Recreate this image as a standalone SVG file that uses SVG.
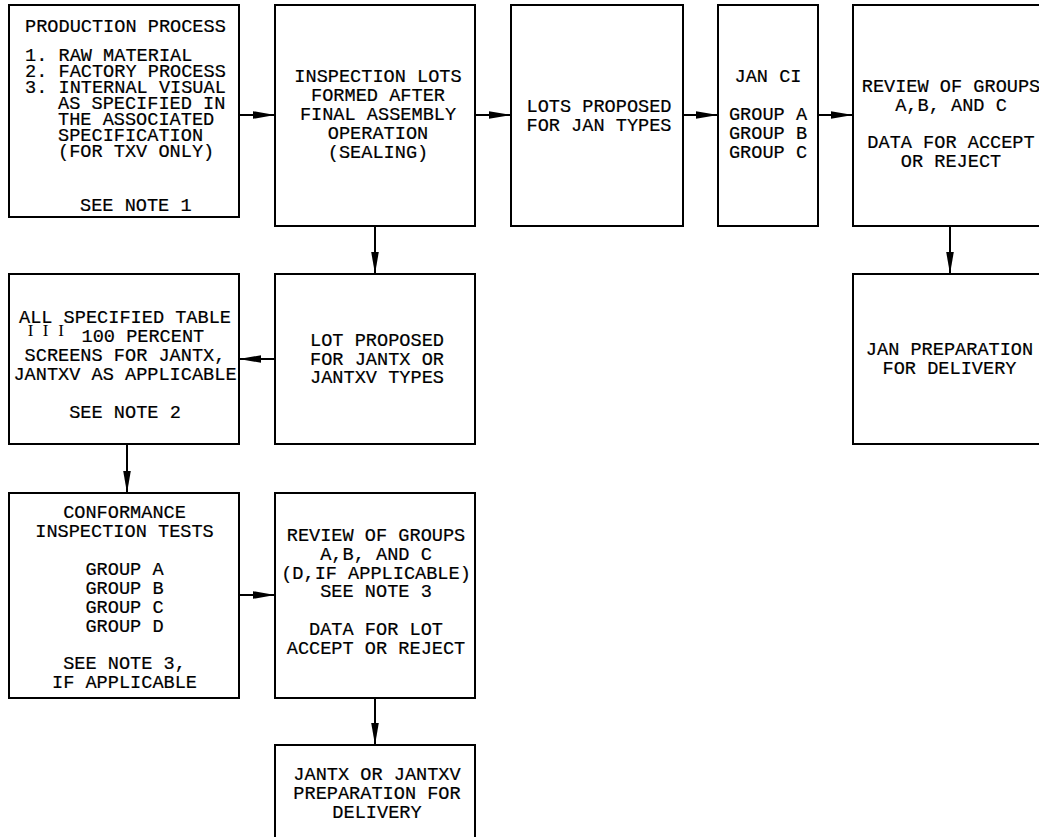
<svg xmlns="http://www.w3.org/2000/svg" width="1039" height="837" viewBox="0 0 1039 837">
<style>
.box{fill:#fff;stroke:#000;stroke-width:2}
.t{font-family:"Liberation Mono","DejaVu Sans Mono",monospace;font-size:18.6px;fill:#000;stroke:#000;stroke-width:0.2}
.c{text-anchor:middle}
.rn{font-family:"Liberation Serif",serif;font-size:17px;fill:#000;text-anchor:middle}
.conn line{stroke:#000;stroke-width:2}
</style>
<defs>
<marker id="ah" markerUnits="userSpaceOnUse" markerWidth="22" markerHeight="8" refX="22" refY="4" orient="auto">
<path d="M0,0.2 L22,4 L0,7.8 z" fill="#000"/>
</marker>
</defs>
<rect width="1039" height="837" fill="#fff"/>
<g class="conn">
<line x1="239" y1="115" x2="275" y2="115" marker-end="url(#ah)"/>
<line x1="475" y1="115" x2="511" y2="115" marker-end="url(#ah)"/>
<line x1="683" y1="115" x2="718" y2="115" marker-end="url(#ah)"/>
<line x1="818" y1="115" x2="853" y2="115" marker-end="url(#ah)"/>
<line x1="375" y1="226" x2="375" y2="274" marker-end="url(#ah)"/>
<line x1="275" y1="359" x2="239" y2="359" marker-end="url(#ah)"/>
<line x1="127" y1="444" x2="127" y2="493" marker-end="url(#ah)"/>
<line x1="239" y1="595" x2="275" y2="595" marker-end="url(#ah)"/>
<line x1="375" y1="698" x2="375" y2="745" marker-end="url(#ah)"/>
<line x1="950" y1="226" x2="950" y2="274" marker-end="url(#ah)"/>
</g>
<g id="production">
<rect class="box" x="9" y="5" width="230" height="212"/>
<text class="t" x="25" y="32">PRODUCTION PROCESS</text>
<text class="t" x="25" y="61">1. RAW MATERIAL</text>
<text class="t" x="25" y="77">2. FACTORY PROCESS</text>
<text class="t" x="25" y="93">3. INTERNAL VISUAL</text>
<text class="t" x="58" y="109">AS SPECIFIED IN</text>
<text class="t" x="58" y="125">THE ASSOCIATED</text>
<text class="t" x="58" y="141">SPECIFICATION</text>
<text class="t" x="58" y="157">(FOR TXV ONLY)</text>
<text class="t" x="80" y="211">SEE NOTE 1</text>
</g>
<g id="inspection-lots">
<rect class="box" x="275" y="5" width="200" height="221"/>
<text class="t c" x="378" y="82">INSPECTION LOTS</text>
<text class="t c" x="378" y="101">FORMED AFTER</text>
<text class="t c" x="378" y="120">FINAL ASSEMBLY</text>
<text class="t c" x="378" y="139">OPERATION</text>
<text class="t c" x="378" y="158">(SEALING)</text>
</g>
<g id="lots-jan">
<rect class="box" x="511" y="5" width="172" height="221"/>
<text class="t c" x="599" y="112">LOTS PROPOSED</text>
<text class="t c" x="599" y="131">FOR JAN TYPES</text>
</g>
<g id="jan-ci">
<rect class="box" x="718" y="5" width="100" height="221"/>
<text class="t c" x="768" y="82">JAN CI</text>
<text class="t c" x="768" y="120">GROUP A</text>
<text class="t c" x="768" y="139">GROUP B</text>
<text class="t c" x="768" y="158">GROUP C</text>
</g>
<g id="review-jan">
<rect class="box" x="853" y="5" width="220" height="221"/>
<text class="t c" x="951" y="92">REVIEW OF GROUPS</text>
<text class="t c" x="951" y="110.5">A,B, AND C</text>
<text class="t c" x="951" y="148">DATA FOR ACCEPT</text>
<text class="t c" x="951" y="166.5">OR REJECT</text>
</g>
<g id="lot-jantx">
<rect class="box" x="275" y="274" width="200" height="170"/>
<text class="t c" x="377" y="346">LOT PROPOSED</text>
<text class="t c" x="377" y="364.5">FOR JANTX OR</text>
<text class="t c" x="377" y="383">JANTXV TYPES</text>
</g>
<g id="screens">
<rect class="box" x="9" y="274" width="230" height="170"/>
<text class="t c" x="125" y="322.5">ALL SPECIFIED TABLE</text>
<text class="rn" x="30.5 45.5 61" y="336">III</text>
<text class="t" x="81.5" y="341.5">100 PERCENT</text>
<text class="t c" x="125" y="360.5">SCREENS FOR JANTX,</text>
<text class="t c" x="125" y="379.5">JANTXV AS APPLICABLE</text>
<text class="t c" x="125" y="417.5">SEE NOTE 2</text>
</g>
<g id="conformance">
<rect class="box" x="9" y="493" width="230" height="205"/>
<text class="t c" x="124.5" y="518">CONFORMANCE</text>
<text class="t c" x="124.5" y="537">INSPECTION TESTS</text>
<text class="t c" x="124.5" y="575">GROUP A</text>
<text class="t c" x="124.5" y="594">GROUP B</text>
<text class="t c" x="124.5" y="613">GROUP C</text>
<text class="t c" x="124.5" y="632">GROUP D</text>
<text class="t c" x="124.5" y="669">SEE NOTE 3,</text>
<text class="t c" x="124.5" y="688">IF APPLICABLE</text>
</g>
<g id="review-jantx">
<rect class="box" x="275" y="493" width="200" height="205"/>
<text class="t c" x="376" y="541">REVIEW OF GROUPS</text>
<text class="t c" x="376" y="559.5">A,B, AND C</text>
<text class="t c" x="376" y="578.5">(D,IF APPLICABLE)</text>
<text class="t c" x="376" y="597">SEE NOTE 3</text>
<text class="t c" x="376" y="635">DATA FOR LOT</text>
<text class="t c" x="376" y="653.5">ACCEPT OR REJECT</text>
</g>
<g id="jantx-delivery">
<rect class="box" x="275" y="745" width="200" height="110"/>
<text class="t c" x="377" y="779.5">JANTX OR JANTXV</text>
<text class="t c" x="377" y="798.5">PREPARATION FOR</text>
<text class="t c" x="377" y="817.5">DELIVERY</text>
</g>
<g id="jan-delivery">
<rect class="box" x="853" y="274" width="220" height="170"/>
<text class="t c" x="949.5" y="355">JAN PREPARATION</text>
<text class="t c" x="949.5" y="373.5">FOR DELIVERY</text>
</g>
</svg>
